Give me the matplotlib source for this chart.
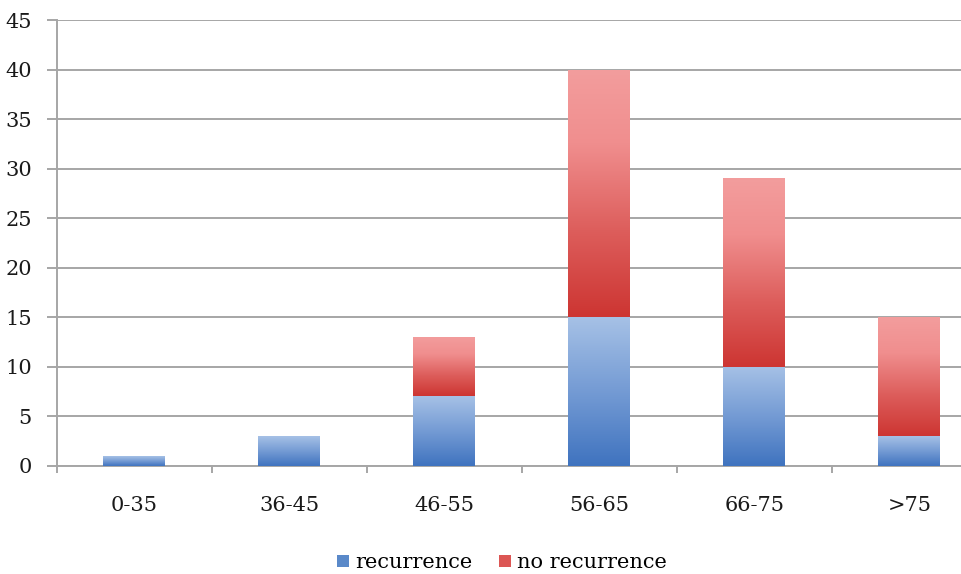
import matplotlib.pyplot as plt
import numpy as np
from matplotlib.colors import LinearSegmentedColormap
from matplotlib.patches import Patch

categories = ["0-35", "36-45", "46-55", "56-65", "66-75", ">75"]
recurrence = [1, 3, 7, 15, 10, 3]
no_recurrence = [0, 0, 6, 25, 19, 12]

plt.rcParams['font.family'] = ['DejaVu Serif']

blue_cmap = LinearSegmentedColormap.from_list(
    "b", [(0.0, "#3f73bf"), (0.45, "#6f97d2"), (1.0, "#a6c1e6")])
red_cmap = LinearSegmentedColormap.from_list(
    "r", [(0.0, "#cd3532"), (0.35, "#dd5e5c"), (0.7, "#f08e8e"), (1.0, "#f39d9d")])

fig = plt.figure(figsize=(9.62, 5.74), dpi=100)
ax = fig.add_axes([57 / 962, 1 - 465.7 / 574, 930 / 962, (465.7 - 20) / 574])

x = np.arange(len(categories))
grad = np.linspace(0, 1, 256).reshape(-1, 1)


def gradient_bars(bars, cmap):
    # fill each bar with a vertical gradient clipped to its rectangle
    for b in bars:
        h = b.get_height()
        if h <= 0:
            continue
        x0, y0 = b.get_x(), b.get_y()
        w = b.get_width()
        im = ax.imshow(grad, cmap=cmap, origin="lower", aspect="auto",
                       extent=[x0, x0 + w, y0, y0 + h], zorder=3)
        im.set_clip_path(b)
        b.set_facecolor("none")


b1 = ax.bar(x, recurrence, width=0.4, color="#4f81bd", edgecolor="none", zorder=2)
b2 = ax.bar(x, no_recurrence, width=0.4, bottom=recurrence, color="#c0504d",
            edgecolor="none", zorder=2)
gradient_bars(b1, blue_cmap)
gradient_bars(b2, red_cmap)

ax.set_xlim(-0.5, 5.5)
ax.set_ylim(0, 45)
ax.set_yticks(range(0, 50, 5))
ax.yaxis.grid(True, color="#a6a6a6", linewidth=1.4, zorder=0)
ax.set_axisbelow(True)

for s in ["top", "right"]:
    ax.spines[s].set_visible(False)
ax.spines["left"].set_color("#a6a6a6")
ax.spines["left"].set_linewidth(1.4)
ax.spines["bottom"].set_color("#a6a6a6")
ax.spines["bottom"].set_linewidth(1.4)

ax.tick_params(axis="y", length=7, width=1.4, color="#a6a6a6", pad=11,
               labelsize=15, labelcolor="#1a1a1a")
ax.set_xticks(x)
ax.set_xticklabels(categories)
ax.tick_params(axis="x", which="major", length=0, pad=22, labelsize=15,
               labelcolor="#1a1a1a")
ax.set_xticks(np.arange(-0.5, 6.0, 1), minor=True)
ax.tick_params(axis="x", which="minor", length=5, width=1.4, color="#a6a6a6")

handles = [Patch(facecolor="#5a89c9", edgecolor="none", label="recurrence"),
           Patch(facecolor="#dc5654", edgecolor="none", label="no recurrence")]
fig.legend(handles=handles, loc="center", bbox_to_anchor=(502 / 962, 11 / 574),
           ncol=2, frameon=False, fontsize=15, handlelength=0.55,
           handleheight=0.55, handletextpad=0.3, columnspacing=1.3)

fig.savefig("out.png", dpi=100)
